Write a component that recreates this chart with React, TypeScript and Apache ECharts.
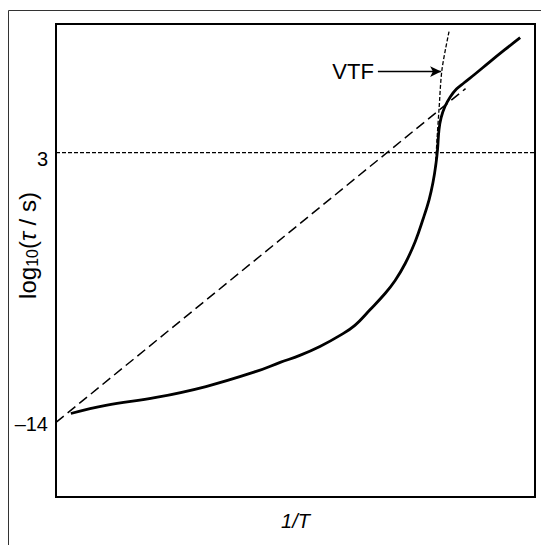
import React, { useEffect, useRef } from "react";
import * as echarts from "echarts";

// Observed relaxation curve (x = 1/T, arbitrary 0..100; y = log10(tau/s))
const curveX = [3.1, 10.4, 20.9, 31.3, 41.8, 46.8, 50.9, 55.1, 59.3, 62.4, 65.6, 68.7, 70.8, 72.9, 75.0, 76.6, 77.9, 78.7, 79.3, 79.65, 79.96, 80.4, 81.2, 82.3, 83.6, 85.2, 87.5, 90.5, 93.7, 96.9];
const curveY = [-13.44, -12.93, -12.43, -11.74, -10.79, -10.22, -9.78, -9.22, -8.52, -7.89, -6.89, -5.88, -5.06, -3.99, -2.60, -1.22, 0.04, 1.11, 2.24, 3.19, 4.45, 5.2, 5.9, 6.5, 7.0, 7.4, 7.95, 8.7, 9.48, 10.24];

// Arrhenius (long dash) line
const arrX = [0, 85.5];
const arrY = [-14, 7.03];

// VTF (short dash) line
const vtfX = [82.05, 80.58, 79.96, 79.54, 79.12];
const vtfY = [10.62, 8.23, 5.71, 3.82, 1.61];

// Horizontal reference at log10(tau) = 3
const refX = [0, 100];
const refY = [3, 3];

// Y tick labels
const yTicks = [3, -14];

// VTF annotation arrow (data coords)
const vtfArrowStart = [67.2, 8.1];
const vtfArrowEnd = [80.4, 8.1];

const FONT = "'Liberation Sans', Arial, sans-serif";

const zip = (xs: number[], ys: number[]) => xs.map((x, i) => [x, ys[i]]);

export default function App() {
  const ref = useRef<HTMLDivElement>(null);
  useEffect(() => {
    document.body.style.margin = "0";
    const chart = echarts.init(ref.current!, null, { renderer: "svg" });
    chart.setOption({
      animation: false,
      backgroundColor: "#fff",
      grid: {
        left: 56,
        top: 24,
        right: 6,
        bottom: 48,
        show: true,
        containLabel: false,
        outerBoundsMode: "none",
        borderColor: "#000",
        borderWidth: 2,
        backgroundColor: "transparent",
      },
      graphic: [
        {
          type: "rect",
          shape: { x: 8.5, y: 10.5, width: 600, height: 600 },
          style: { fill: "none", stroke: "#333", lineWidth: 1 },
          silent: true,
        },
      ],
      xAxis: {
        type: "value",
        min: 0,
        max: 100,
        axisLine: { show: false },
        axisTick: { show: false },
        axisLabel: { show: false },
        splitLine: { show: false },
        name: "1/T",
        nameLocation: "middle",
        nameGap: 14,
        nameMoveOverlap: false,
        nameTextStyle: {
          fontFamily: FONT,
          fontSize: 20,
          fontStyle: "italic",
          color: "#000",
        },
      },
      yAxis: {
        type: "value",
        min: -18.7,
        max: 11.1,
        axisLine: { show: false },
        axisTick: { show: false },
        splitLine: { show: false },
        axisLabel: {
          customValues: yTicks,
          margin: 8,
          fontFamily: FONT,
          fontSize: 20,
          color: "#000",
          formatter: (v: number) =>
            v === 3 ? "{t|3}" : "{m|" + String(v).replace("-", "\u2013") + "}",
          rich: {
            t: { fontFamily: FONT, fontSize: 20, color: "#000", padding: [12, 0, 0, 0] },
            m: { fontFamily: FONT, fontSize: 20, color: "#000", padding: [4, 0, 0, 0] },
          },
        },
        name: "{a|log}{b|10}{a|(}{c|\u03c4}{a| / s)}",
        nameLocation: "middle",
        nameRotate: 90,
        nameGap: 16,
        nameMoveOverlap: false,
        nameTextStyle: {
          fontFamily: FONT,
          fontSize: 24,
          color: "#000",
          padding: [0, 0, 0, 30],
          rich: {
            a: { fontFamily: FONT, fontSize: 24, color: "#000", lineHeight: 26 },
            b: {
              fontFamily: FONT,
              fontSize: 16,
              color: "#000",
              lineHeight: 8,
              verticalAlign: "bottom",
            },
            c: {
              fontFamily: FONT,
              fontSize: 24,
              fontStyle: "italic",
              color: "#000",
              lineHeight: 26,
            },
          },
        },
      },
      series: [
        {
          type: "line",
          data: zip(refX, refY),
          symbol: "none",
          lineStyle: { color: "#000", width: 1.3, type: [4, 2] },
          z: 2,
        },
        {
          type: "line",
          data: zip(arrX, arrY),
          symbol: "none",
          lineStyle: { color: "#000", width: 1.5, type: [10, 5] },
          z: 2,
        },
        {
          type: "line",
          data: zip(vtfX, vtfY),
          symbol: "none",
          smooth: 0.3,
          lineStyle: { color: "#000", width: 1.3, type: [4, 2] },
          z: 2,
          markLine: {
            silent: true,
            symbol: ["none", "arrow"],
            symbolSize: [8, 11],
            lineStyle: { color: "#000", width: 1.3, type: "solid" },
            label: {
              show: true,
              position: "start",
              formatter: "VTF",
              fontFamily: FONT,
              fontSize: 22,
              color: "#000",
              distance: 4,
            },
            data: [
              [
                { coord: vtfArrowStart },
                { coord: vtfArrowEnd },
              ],
            ],
          },
        },
        {
          type: "line",
          data: zip(curveX, curveY),
          symbol: "none",
          smooth: 0.4,
          lineStyle: { color: "#000", width: 2.8 },
          z: 3,
        },
      ],
    });
    return () => chart.dispose();
  }, []);
  return <div ref={ref} style={{ width: 541, height: 545 }} />;
}
